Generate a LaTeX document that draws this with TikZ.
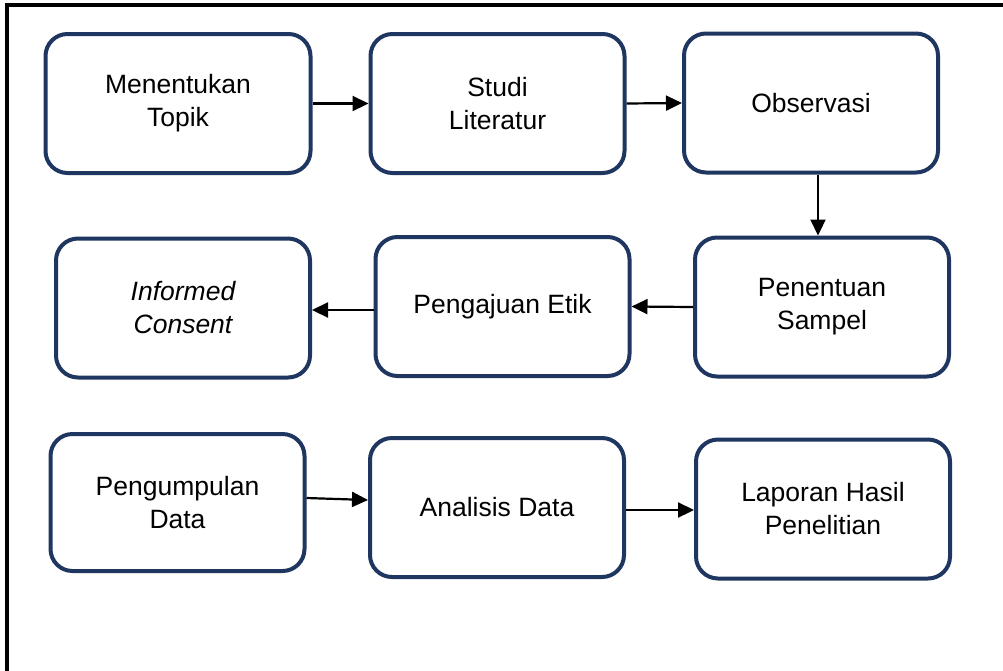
\documentclass[tikz,border=0pt]{standalone}
\usepackage{fontspec}
\setmainfont{Liberation Sans}
\usetikzlibrary{arrows.meta,calc}
\definecolor{navy}{RGB}{31,54,96}
\begin{document}
\begin{tikzpicture}[x=1pt,y=-1pt,
  box/.style={draw=navy,line width=4pt,rounded corners=22pt,fill=white,
    minimum width=#1,minimum height=139pt,inner sep=0pt,align=center,
    font=\fontsize{26.5}{33}\selectfont,text=black},
  box/.default=254pt,
  arr/.style={line width=2.2pt,-{Triangle[length=16pt,width=15pt]}}]
\useasboundingbox (0,0) rectangle (1003,670);
\draw[line width=4pt] (7,675) -- (7,5) -- (1010,5);
\node[box=265pt] (b1) at (178,103.5) {Menentukan\\Topik};
\node[box=254pt] (b2) at (497.5,103.5) {Studi\\Literatur};
\node[box=254pt] (b3) at (811,103) {Observasi};
\node[box] (b4) at (822,307) {Penentuan\\Sampel};
\node[box=254pt] (b5) at (502.5,306.5) {Pengajuan Etik};
\node[box] (b6) at (183,308) {\itshape Informed\\\itshape Consent};
\node[box=254pt,minimum height=137pt] (b7) at (177.5,502.5) {Pengumpulan\\Data};
\node[box] (b8) at (497,507.5) {Analisis Data};
\node[box] (b9) at (823,509) {Laporan Hasil\\Penelitian};
\draw[arr] (b1.east) -- (b2.west);
\draw[arr] (b2.east) -- (b3.west);
\draw[arr] (b3.south -| 818,0) -- (b4.north -| 818,0);
\draw[arr] (b4.west) -- (b5.east);
\draw[arr] (b5.west |- 0,310) -- (b6.east |- 0,310);
\draw[arr] ($(b7.east)+(0,-4.5)$) -- ($(b8.west)+(0,-7.5)$);
\draw[arr] (b8.east |- 0,510) -- (b9.west |- 0,510);
\end{tikzpicture}
\end{document}
